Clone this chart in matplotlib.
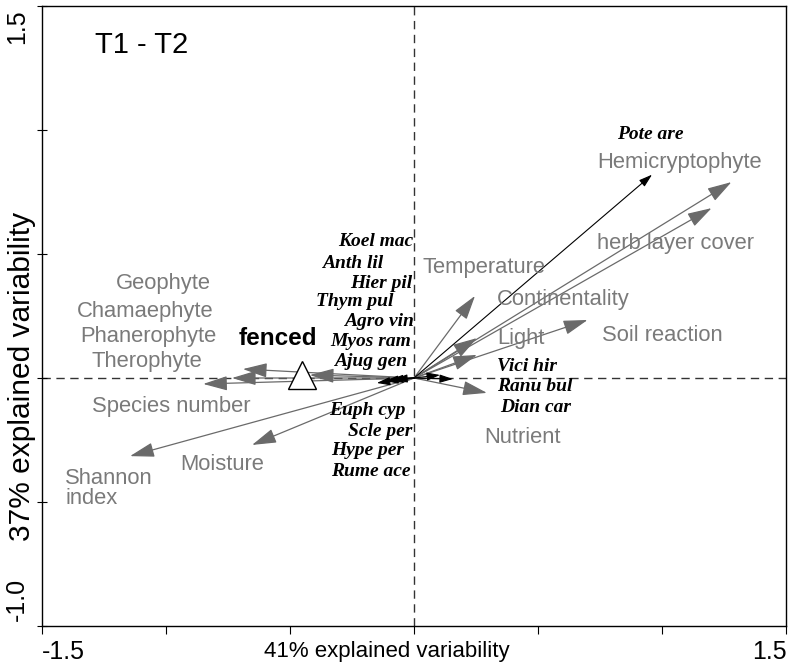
import matplotlib
matplotlib.use("Agg")
import matplotlib.pyplot as plt

W, H = 791, 669
fig = plt.figure(figsize=(W / 100, H / 100), dpi=100)
ax = fig.add_axes([42 / W, 43 / H, 744 / W, 620 / H])
ax.set_xlim(-1.5, 1.5)
ax.set_ylim(-1.0, 1.5)

# ---------------- data ----------------
env_names = ["Hemicryptophyte", "herb layer cover", "Soil reaction", "Temperature",
             "Continentality", "Light", "Nutrient", "Geophyte", "Chamaephyte",
             "Species number", "Phanerophyte", "Shannon\nindex", "Moisture"]
env_x = [1.28, 1.20, 0.70, 0.246, 0.254, 0.254, 0.294, -0.69, -0.734, -0.85, -0.42, -1.145, -0.653]
env_y = [0.79, 0.685, 0.234, 0.331, 0.161, 0.093, -0.06, 0.036, 0.0, -0.024, 0.012, -0.315, -0.27]

# label anchor positions for env variables (x, y, ha)
env_lab_x = [0.738, 0.738, 0.758, 0.036, 0.335, 0.335, 0.282, -0.819, -0.810, -1.298, -0.798, -1.407, -0.944]
env_lab_y = [0.867, 0.544, 0.173, 0.444, 0.315, 0.161, -0.238, 0.383, 0.270, -0.113, 0.169, -0.444, -0.350]
env_lab_ha = ["left", "left", "left", "left", "left", "left", "left", "right", "right",
              "left", "right", "left", "left"]
extra_env_labels = ["Therophyte"]
extra_env_x = [-0.855]
extra_env_y = [0.065]

spec_names = ["Pote are", "Koel mac", "Anth lil", "Hier pil", "Thym pul", "Agro vin",
              "Myos ram", "Ajug gen", "Euph cyp", "Scle per", "Hype per", "Rume ace",
              "Vici hir", "Ranu bul", "Dian car"]
spec_lab_x = [0.819, -0.004, -0.125, -0.008, -0.085, 0.0, -0.012, -0.028, -0.036, -0.008, -0.040, -0.012,
              0.335, 0.335, 0.347]
spec_lab_y = [0.980, 0.552, 0.460, 0.383, 0.310, 0.226, 0.149, 0.065, -0.133, -0.214, -0.294, -0.375,
              0.048, -0.036, -0.120]
spec_lab_ha = ["left"] + ["right"] * 11 + ["left"] * 3

spec_vec_x = [0.96, 0.105, 0.157, -0.15, -0.117, -0.097, -0.08]
spec_vec_y = [0.82, 0.012, -0.004, -0.02, -0.012, -0.008, -0.006]

sample_name = "fenced"
sample_x = [-0.452]
sample_y = [0.014]

panel_title = "T1 - T2"
x_label = "41% explained variability"
y_label = "37% explained variability"

# ---------------- styling ----------------
GRAY_TXT = "#7a7a7a"
GRAY_ARR = "#6a6a6a"
SANS = ["Liberation Sans", "DejaVu Sans"]
SERIF = ["Liberation Serif", "DejaVu Serif"]

# dashed axes through origin
ax.axhline(0, color="#333333", lw=1.0, ls=(0, (6, 4)), zorder=1)
ax.axvline(0, color="#333333", lw=1.0, ls=(0, (6, 4)), zorder=1)

for x, y in zip(env_x, env_y):
    ax.annotate("", xy=(x, y), xytext=(0, 0),
                arrowprops=dict(arrowstyle="-|>,head_length=1.0,head_width=0.3",
                                mutation_scale=15, color=GRAY_ARR, lw=0.9,
                                shrinkA=0, shrinkB=0), zorder=3)

for x, y in zip(spec_vec_x, spec_vec_y):
    ax.annotate("", xy=(x, y), xytext=(0, 0),
                arrowprops=dict(arrowstyle="-|>,head_length=0.8,head_width=0.25",
                                mutation_scale=10, color="black", lw=0.8,
                                shrinkA=0, shrinkB=0), zorder=4)

for name, x, y, ha in zip(env_names, env_lab_x, env_lab_y, env_lab_ha):
    ax.text(x, y, name, color=GRAY_TXT, fontsize=15.8, family=SANS, ha=ha, va="center",
            linespacing=0.95, zorder=5)
for name, x, y in zip(extra_env_labels, extra_env_x, extra_env_y):
    ax.text(x, y, name, color=GRAY_TXT, fontsize=15.8, family=SANS, ha="right", va="center", zorder=5)

for name, x, y, ha in zip(spec_names, spec_lab_x, spec_lab_y, spec_lab_ha):
    ax.text(x, y, name, color="black", fontsize=14, family=SERIF, weight="bold",
            style="italic", ha=ha, va="center", zorder=5)

ax.plot(sample_x, sample_y, marker="^", ms=20, mfc="white", mec="black", mew=1.0,
        ls="none", zorder=6)
ax.text(-0.55, 0.16, sample_name, fontsize=17.5, weight="bold", family=SANS,
        ha="center", va="center", color="black", zorder=6)

ax.text(-1.286, 1.343, panel_title, fontsize=21, family=SANS, ha="left", va="center")

# ticks
ax.set_xticks([-1.5, -1.0, -0.5, 0, 0.5, 1.0, 1.5])
ax.set_yticks([-1.0, -0.5, 0, 0.5, 1.0, 1.5])
ax.tick_params(axis="x", direction="out", length=6, width=0.8, labelbottom=False)
ax.tick_params(axis="y", direction="inout", length=7, width=0.8, labelleft=False)
for s in ax.spines.values():
    s.set_linewidth(1.0)


def ft(px, py):
    return px / W, 1 - py / H


fig.text(*ft(42, 652), "-1.5", fontsize=18, family=SANS, ha="left", va="center")
fig.text(*ft(787, 652), "1.5", fontsize=18, family=SANS, ha="right", va="center")
fig.text(*ft(17, 9), "1.5", fontsize=18, family=SANS, ha="center", va="top", rotation=90)
fig.text(*ft(17, 621), "-1.0", fontsize=18, family=SANS, ha="center", va="bottom", rotation=90)
fig.text(*ft(387, 652), x_label, fontsize=16, family=SANS, ha="center", va="center")
fig.text(*ft(22, 376), y_label, fontsize=21.5, family=SANS, ha="center", va="center", rotation=90)

fig.savefig("out.png", dpi=100)
